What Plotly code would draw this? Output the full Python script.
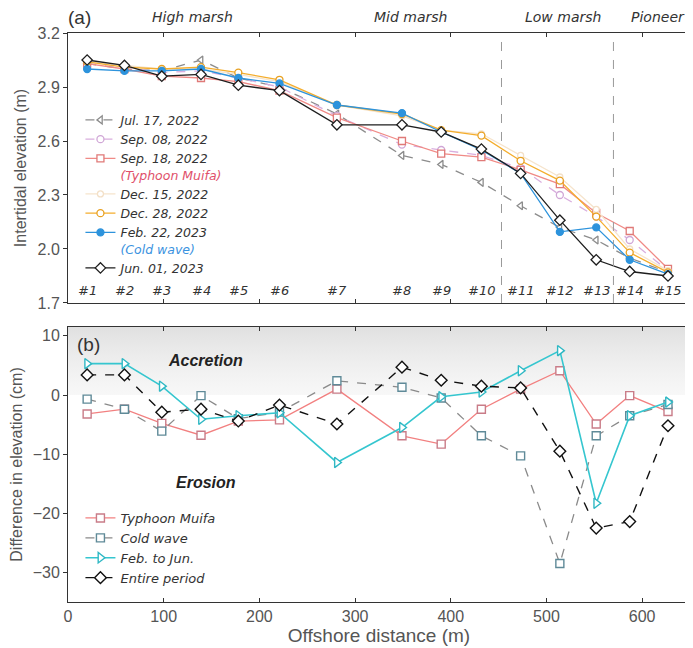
import plotly.graph_objects as go

# ---------------- data ----------------
stations = ["#1", "#2", "#3", "#4", "#5", "#6", "#7", "#8", "#9", "#10", "#11", "#12", "#13", "#14", "#15"]
distance = [20, 59, 98, 139, 178, 221, 281, 349, 390, 432, 473, 514, 552, 587, 627]

dates = ["Jul. 17, 2022", "Sep. 08, 2022", "Sep. 18, 2022", "Dec. 15, 2022",
         "Dec. 28, 2022", "Feb. 22, 2023", "Jun. 01, 2023"]
elev_jul17 = [3.03, 3.00, 2.99, 3.05, 2.95, 2.90, 2.75, 2.52, 2.47, 2.37, 2.24, 2.12, 2.05, 1.95, 1.87]
elev_sep08 = [3.04, 3.01, 2.98, 2.99, 2.95, 2.90, 2.74, 2.58, 2.55, 2.52, 2.45, 2.30, 2.18, 2.05, 1.88]
elev_sep18 = [3.03, 3.00, 2.96, 2.95, 2.93, 2.88, 2.73, 2.60, 2.53, 2.51, 2.44, 2.36, 2.20, 2.10, 1.89]
elev_dec15 = [3.04, 3.02, 3.00, 3.00, 2.97, 2.93, 2.80, 2.74, 2.66, 2.64, 2.52, 2.40, 2.22, 2.00, 1.88]
elev_dec28 = [3.04, 3.01, 3.00, 3.01, 2.98, 2.94, 2.80, 2.75, 2.66, 2.63, 2.49, 2.38, 2.18, 1.98, 1.87]
elev_feb22 = [3.00, 2.99, 2.99, 3.00, 2.95, 2.92, 2.80, 2.755, 2.65, 2.55, 2.42, 2.095, 2.12, 1.94, 1.86]
elev_jun01 = [3.05, 3.02, 2.96, 2.97, 2.91, 2.88, 2.69, 2.69, 2.65, 2.555, 2.42, 2.16, 1.94, 1.875, 1.85]
date_notes = ["", "", "(Typhoon Muifa)", "", "", "(Cold wave)", ""]

diff_names = ["Typhoon Muifa", "Cold wave", "Feb. to Jun.", "Entire period"]
diff_typhoon = [-3.2, -2.4, -4.8, -6.8, -4.4, -4.2, 1.0, -6.9, -8.3, -2.4, 1.0, 4.1, -4.9, -0.1, -2.8]
diff_cold = [-0.7, -2.4, -6.1, -0.1, -4.0, -2.9, 2.4, 1.3, -0.5, -6.9, -10.3, -28.5, -6.9, -3.5, -1.6]
diff_febjun = [5.3, 5.3, 1.5, -4.1, -3.5, -3.0, -11.4, -5.5, -0.3, 0.5, 4.1, 7.5, -18.3, -3.5, -1.2]
diff_entire = [3.4, 3.4, -2.9, -2.4, -4.4, -1.7, -4.9, 4.7, 2.5, 1.5, 1.2, -9.5, -22.5, -21.4, -5.2]

zone_names = ["High marsh", "Mid marsh", "Low marsh", "Pioneer"]
zone_label_x = [130, 358, 517, 617]
zone_bounds = [453, 570]

# ---------------- figure ----------------
FONT = "Liberation Sans, Arial, sans-serif"
LFONT = "DejaVu Sans, sans-serif"
TXT = "#333333"
fig = go.Figure()

styles_a = [
    dict(color="#8c8c8c", dash="dash", symbol="triangle-left", fill="white", mcolor="#8c8c8c", size=7),
    dict(color="#d9aede", dash="dash", symbol="circle", fill="white", mcolor="#d0a6d6", size=7),
    dict(color="#f08a86", dash="solid", symbol="square", fill="white", mcolor="#e07a78", size=7),
    dict(color="#f6e4cc", dash="solid", symbol="circle", fill="white", mcolor="#f3e0c8", size=6),
    dict(color="#f4ad2c", dash="solid", symbol="circle", fill="white", mcolor="#e8a020", size=7),
    dict(color="#2d93dc", dash="solid", symbol="circle", fill="#2d93dc", mcolor="#2d93dc", size=7),
    dict(color="#1e1e1e", dash="solid", symbol="diamond", fill="white", mcolor="#1e1e1e", size=8),
]
series_a = [elev_jul17, elev_sep08, elev_sep18, elev_dec15, elev_dec28, elev_feb22, elev_jun01]
note_colors = {2: "#e0506a", 5: "#3a92e0"}

for i, (name, vals, st, note) in enumerate(zip(dates, series_a, styles_a, date_notes)):
    label = "<i>" + name + "</i>"
    if note:
        label += "<br><i><span style='color:%s'>%s</span></i>" % (note_colors[i], note)
    fig.add_trace(go.Scatter(
        x=distance, y=vals, mode="lines+markers", name=label,
        line=dict(color=st["color"], width=1.3, dash=st["dash"]),
        marker=dict(symbol=st["symbol"], size=st["size"], color=st["fill"],
                    line=dict(color=st["mcolor"], width=1.3)),
        xaxis="x", yaxis="y", legend="legend", showlegend=True))

# accretion shading
fig.add_trace(go.Scatter(
    x=[0, 650, 650, 0, 0], y=[0, 0, 11.5, 11.5, 0], mode="lines", fill="toself",
    line=dict(width=0, color="rgba(0,0,0,0)"),
    fillgradient=dict(type="vertical", colorscale=[[0, "rgba(240,240,240,0.5)"], [1, "rgb(224,224,224)"]]),
    xaxis="x2", yaxis="y2", showlegend=False, hoverinfo="skip"))

styles_b = [
    dict(color="#f28080", dash="solid", symbol="square", mcolor="#c97c88", size=8, w=1.3),
    dict(color="#8a8a8a", dash="dash", symbol="square", mcolor="#5f8a98", size=8, w=1.3),
    dict(color="#35c6cf", dash="solid", symbol="triangle-right", mcolor="#2fb8c4", size=9, w=1.6),
    dict(color="#111111", dash="dash", symbol="diamond", mcolor="#111111", size=9, w=1.4),
]
series_b = [diff_typhoon, diff_cold, diff_febjun, diff_entire]
for name, vals, st in zip(diff_names, series_b, styles_b):
    fig.add_trace(go.Scatter(
        x=distance, y=vals, mode="lines+markers", name="<i>" + name + "</i>",
        line=dict(color=st["color"], width=st["w"], dash=st["dash"]),
        marker=dict(symbol=st["symbol"], size=st["size"], color="white",
                    line=dict(color=st["mcolor"], width=1.4)),
        xaxis="x2", yaxis="y2", legend="legend2", showlegend=True))

annotations = []
for s, d in zip(stations, distance):
    annotations.append(dict(x=d, y=1.772, xref="x", yref="y", text="<i>" + s + "</i>", showarrow=False,
                            font=dict(family=LFONT, size=13, color=TXT)))
for zn, zx in zip(zone_names, zone_label_x):
    annotations.append(dict(x=zx, y=1.028, xref="x", yref="paper", text="<i>" + zn + "</i>", showarrow=False,
                            xanchor="center", yanchor="middle",
                            font=dict(family=LFONT, size=14, color=TXT)))
annotations.append(dict(x=-0.004, y=1.028, xref="paper", yref="paper", text="(a)", showarrow=False,
                        xanchor="left", yanchor="middle",
                        font=dict(family=FONT, size=19, color=TXT)))
annotations.append(dict(x=7, y=8.6, xref="x2", yref="y2", text="(b)", showarrow=False, xanchor="left",
                        font=dict(family=FONT, size=19, color=TXT)))
annotations.append(dict(x=144, y=5.8, xref="x2", yref="y2", text="<b><i>Accretion</i></b>", showarrow=False,
                        font=dict(family=FONT, size=16, color="#222")))
annotations.append(dict(x=144, y=-14.8, xref="x2", yref="y2", text="<b><i>Erosion</i></b>", showarrow=False,
                        font=dict(family=FONT, size=16, color="#222")))

shapes = []
for b in zone_bounds:
    shapes.append(dict(type="line", xref="x", yref="y", x0=b, x1=b, y0=1.7, y1=3.2,
                       line=dict(color="#999999", width=1, dash="dash")))

axis_common = dict(showline=True, linecolor="#333", linewidth=1, mirror=True, showgrid=False, zeroline=False,
                   tickfont=dict(family=FONT, size=16, color="#555"), ticklen=4, tickcolor="#333")

# page body has an 8px margin: the figure is sized/offset so the plot area lands at page x 68-690, y 33-602
fig.update_layout(
    width=685, height=640, margin=dict(l=60, r=3, t=25, b=46),
    paper_bgcolor="white", plot_bgcolor="white",
    font=dict(family=FONT, color=TXT),
    xaxis=dict(axis_common, domain=[0, 1], range=[0, 650], anchor="y", ticks="inside", dtick=100,
               showticklabels=False, mirror="ticks"),
    yaxis=dict(axis_common, domain=[0.5255, 1], range=[1.7, 3.2], anchor="x", ticks="outside",
               tickvals=[1.7, 2.0, 2.3, 2.6, 2.9, 3.2], ticktext=["1.7", "2.0", "2.3", "2.6", "2.9", "3.2"],
               title=dict(text="Intertidal elevation (m)", font=dict(family=FONT, size=16, color="#555"), standoff=6)),
    xaxis2=dict(axis_common, domain=[0, 1], range=[0, 650], anchor="y2", ticks="inside", dtick=100,
                mirror="ticks",
                title=dict(text="Offshore distance (m)", font=dict(family=FONT, size=19, color="#555"), standoff=2)),
    yaxis2=dict(axis_common, domain=[0, 0.4833], range=[-35, 11.5], anchor="x2", ticks="outside",
                tickvals=[-30, -20, -10, 0, 10],
                title=dict(text="Difference in elevation (cm)", font=dict(family=FONT, size=16, color="#555"), standoff=6)),
    legend=dict(x=0.02, y=0.873, xanchor="left", yanchor="top", bgcolor="rgba(0,0,0,0)", borderwidth=0,
                font=dict(family=LFONT, size=12.5, color=TXT), tracegroupgap=0, itemwidth=30, valign="top"),
    legend2=dict(x=0.02, y=0.174, xanchor="left", yanchor="top", bgcolor="rgba(0,0,0,0)", borderwidth=0,
                 font=dict(family=LFONT, size=13, color=TXT), tracegroupgap=0, itemwidth=30),
    annotations=annotations, shapes=shapes,
)

fig.write_html("out.html")
